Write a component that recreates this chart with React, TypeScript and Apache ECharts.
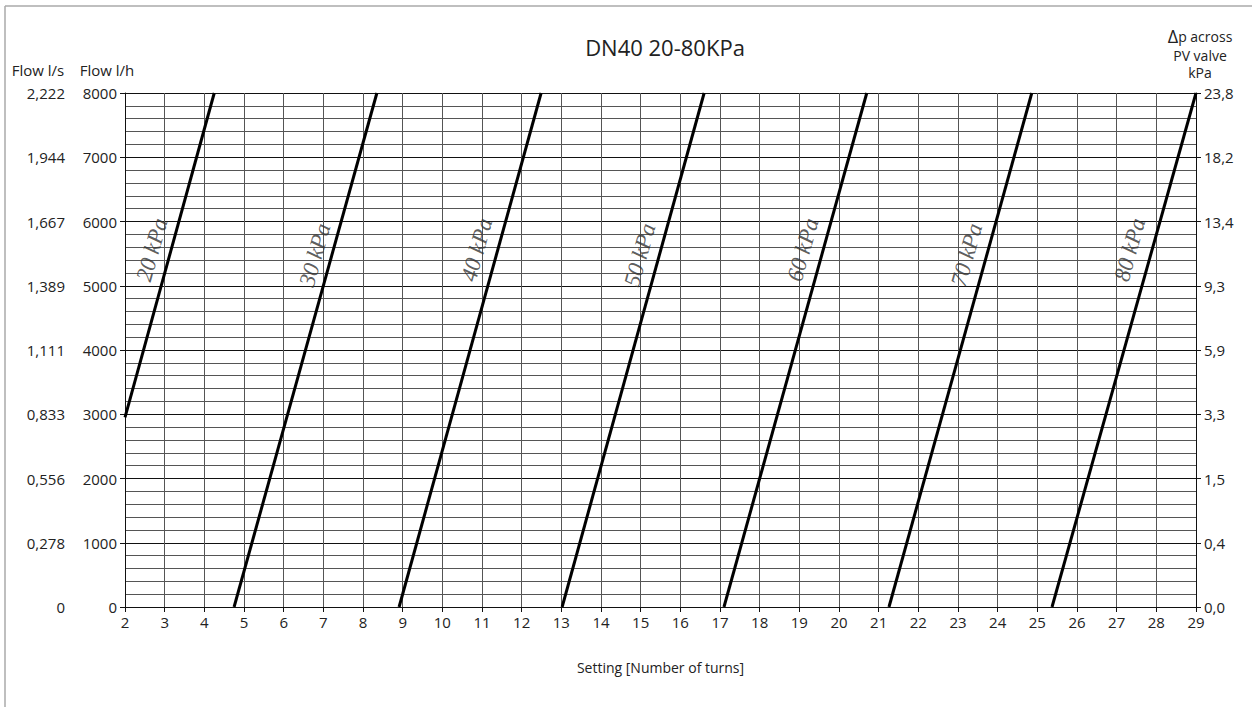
import React, { useEffect, useRef } from "react";
import * as echarts from "echarts";

const titleText = "DN40 20-80KPa";
const flowLhTicks = [0, 1000, 2000, 3000, 4000, 5000, 6000, 7000, 8000];
const flowLsLabels = ["0", "0,278", "0,556", "0,833", "1,111", "1,389", "1,667", "1,944", "2,222"];
const dpLabels = ["0,0", "0,4", "1,5", "3,3", "5,9", "9,3", "13,4", "18,2", "23,8"];

const curveNames = ["20 kPa", "30 kPa", "40 kPa", "50 kPa", "60 kPa", "70 kPa", "80 kPa"];
// [setting, flow l/h] start and end of each line
const curve20 = [[2.0, 2950], [4.25, 8000]];
const curve30 = [[4.75, 0], [8.35, 8000]];
const curve40 = [[8.91, 0], [12.49, 8000]];
const curve50 = [[13.02, 0], [16.6, 8000]];
const curve60 = [[17.1, 0], [20.7, 8000]];
const curve70 = [[21.26, 0], [24.86, 8000]];
const curve80 = [[25.37, 0], [29.0, 8000]];
const curves = [curve20, curve30, curve40, curve50, curve60, curve70, curve80];
// label anchor positions [setting, flow]
const labelX = [2.68, 6.79, 10.87, 14.98, 19.09, 23.22, 27.33];
const labelY = [5560, 5480, 5560, 5480, 5560, 5480, 5560];

const FONT = "'Open Sans', 'Noto Sans', sans-serif";
const FS = 15;

export default function App() {
  const ref = useRef<HTMLDivElement>(null);
  useEffect(() => {
    if (!ref.current) return;
    const chart = echarts.init(ref.current, null, { renderer: "svg" });
    const lineSeries = curves.map((c, i) => ({
      type: "line",
      name: curveNames[i],
      data: c,
      showSymbol: false,
      symbol: "none",
      lineStyle: { color: "#000", width: 3 },
      z: 5,
    }));
    const labelSeries = {
      type: "scatter",
      symbolSize: 0,
      data: labelX.map((x, i) => ({ value: [x, labelY[i]], name: curveNames[i] })),
      label: {
        show: true,
        position: "inside",
        formatter: "{b}",
        rotate: 74.5,
        fontFamily: "'Liberation Serif', 'DejaVu Serif', serif",
        fontStyle: "italic",
        fontSize: 23,
        color: "#333",
      },
      z: 6,
    };
    const yCommon = {
      type: "value",
      min: 0,
      max: 8000,
      interval: 1000,
    };
    const headerStyle = { fontFamily: FONT, fontSize: 14, fill: "#222", textAlign: "center", textVerticalAlign: "middle" };
    chart.setOption({
      animation: false,
      backgroundColor: "#fff",
      title: {
        text: titleText,
        left: 660,
        textAlign: "center",
        top: 31,
        textStyle: { fontFamily: FONT, fontSize: 22, fontWeight: "normal", color: "#222" },
      },
      grid: { left: 125, right: 61, top: 93, bottom: 100 },
      xAxis: {
        type: "value",
        min: 2,
        max: 29,
        interval: 1,
        name: "Setting [Number of turns]",
        nameLocation: "middle",
        nameGap: 53,
        nameTextStyle: { fontFamily: FONT, fontSize: 14, color: "#222" },
        axisLine: { lineStyle: { color: "#111", width: 1 } },
        axisTick: { show: true, length: 5, lineStyle: { color: "#111" } },
        axisLabel: { margin: 7, fontFamily: FONT, fontSize: FS, color: "#222" },
        splitLine: { show: true, lineStyle: { color: "#555", width: 1 } },
      },
      yAxis: [
        {
          ...yCommon,
          position: "left",
          axisLine: { show: true, lineStyle: { color: "#111", width: 1 } },
          axisTick: { show: true, length: 5, lineStyle: { color: "#111" } },
          axisLabel: { margin: 8, fontFamily: FONT, fontSize: FS, color: "#222", formatter: (v: number) => String(flowLhTicks[Math.round(v / 1000)]) },
          splitLine: { show: true, lineStyle: { color: "#111", width: 1 } },
          minorTick: { show: false, splitNumber: 5 },
          minorSplitLine: { show: true, lineStyle: { color: "#555", width: 1 } },
        },
        {
          ...yCommon,
          position: "left",
          offset: 50,
          axisLine: { show: false },
          axisTick: { show: false },
          axisLabel: { margin: 10, fontFamily: FONT, fontSize: FS, color: "#222", formatter: (v: number) => flowLsLabels[Math.round(v / 1000)] },
          splitLine: { show: false },
        },
        {
          ...yCommon,
          position: "right",
          axisLine: { show: true, lineStyle: { color: "#111", width: 1 } },
          axisTick: { show: true, length: 5, lineStyle: { color: "#111" } },
          axisLabel: { margin: 8, fontFamily: FONT, fontSize: FS, color: "#222", formatter: (v: number) => dpLabels[Math.round(v / 1000)] },
          splitLine: { show: false },
        },
      ],
      graphic: [
        { type: "line", shape: { x1: 5, y1: 6, x2: 1252, y2: 6 }, style: { stroke: "#aaa", lineWidth: 1.5 } },
        { type: "line", shape: { x1: 5, y1: 6, x2: 5, y2: 707 }, style: { stroke: "#aaa", lineWidth: 1.5 } },
        { type: "text", x: 38, y: 70, style: { text: "Flow l/s", fontFamily: FONT, fontSize: FS, fill: "#222", textAlign: "center", textVerticalAlign: "middle" } },
        { type: "text", x: 107, y: 70, style: { text: "Flow l/h", fontFamily: FONT, fontSize: FS, fill: "#222", textAlign: "center", textVerticalAlign: "middle" } },
        {
          type: "text",
          x: 1200,
          y: 36,
          style: {
            text: "{d|Δ}{p|p across}",
            rich: {
              d: { fontFamily: FONT, fontSize: 18, fill: "#222" },
              p: { fontFamily: FONT, fontSize: 14, fill: "#222" },
            },
            textAlign: "center",
            textVerticalAlign: "middle",
          },
        },
        { type: "text", x: 1200, y: 55, style: { ...headerStyle, text: "PV valve" } },
        { type: "text", x: 1200, y: 72, style: { ...headerStyle, text: "kPa" } },
      ],
      series: [
        ...lineSeries.map((s) => ({ ...s, xAxisIndex: 0, yAxisIndex: 0 })),
        { ...labelSeries, xAxisIndex: 0, yAxisIndex: 0 },
      ],
    });
    return () => chart.dispose();
  }, []);
  return <div ref={ref} style={{ position: "absolute", left: 0, top: 0, width: 1257, height: 707 }} />;
}
